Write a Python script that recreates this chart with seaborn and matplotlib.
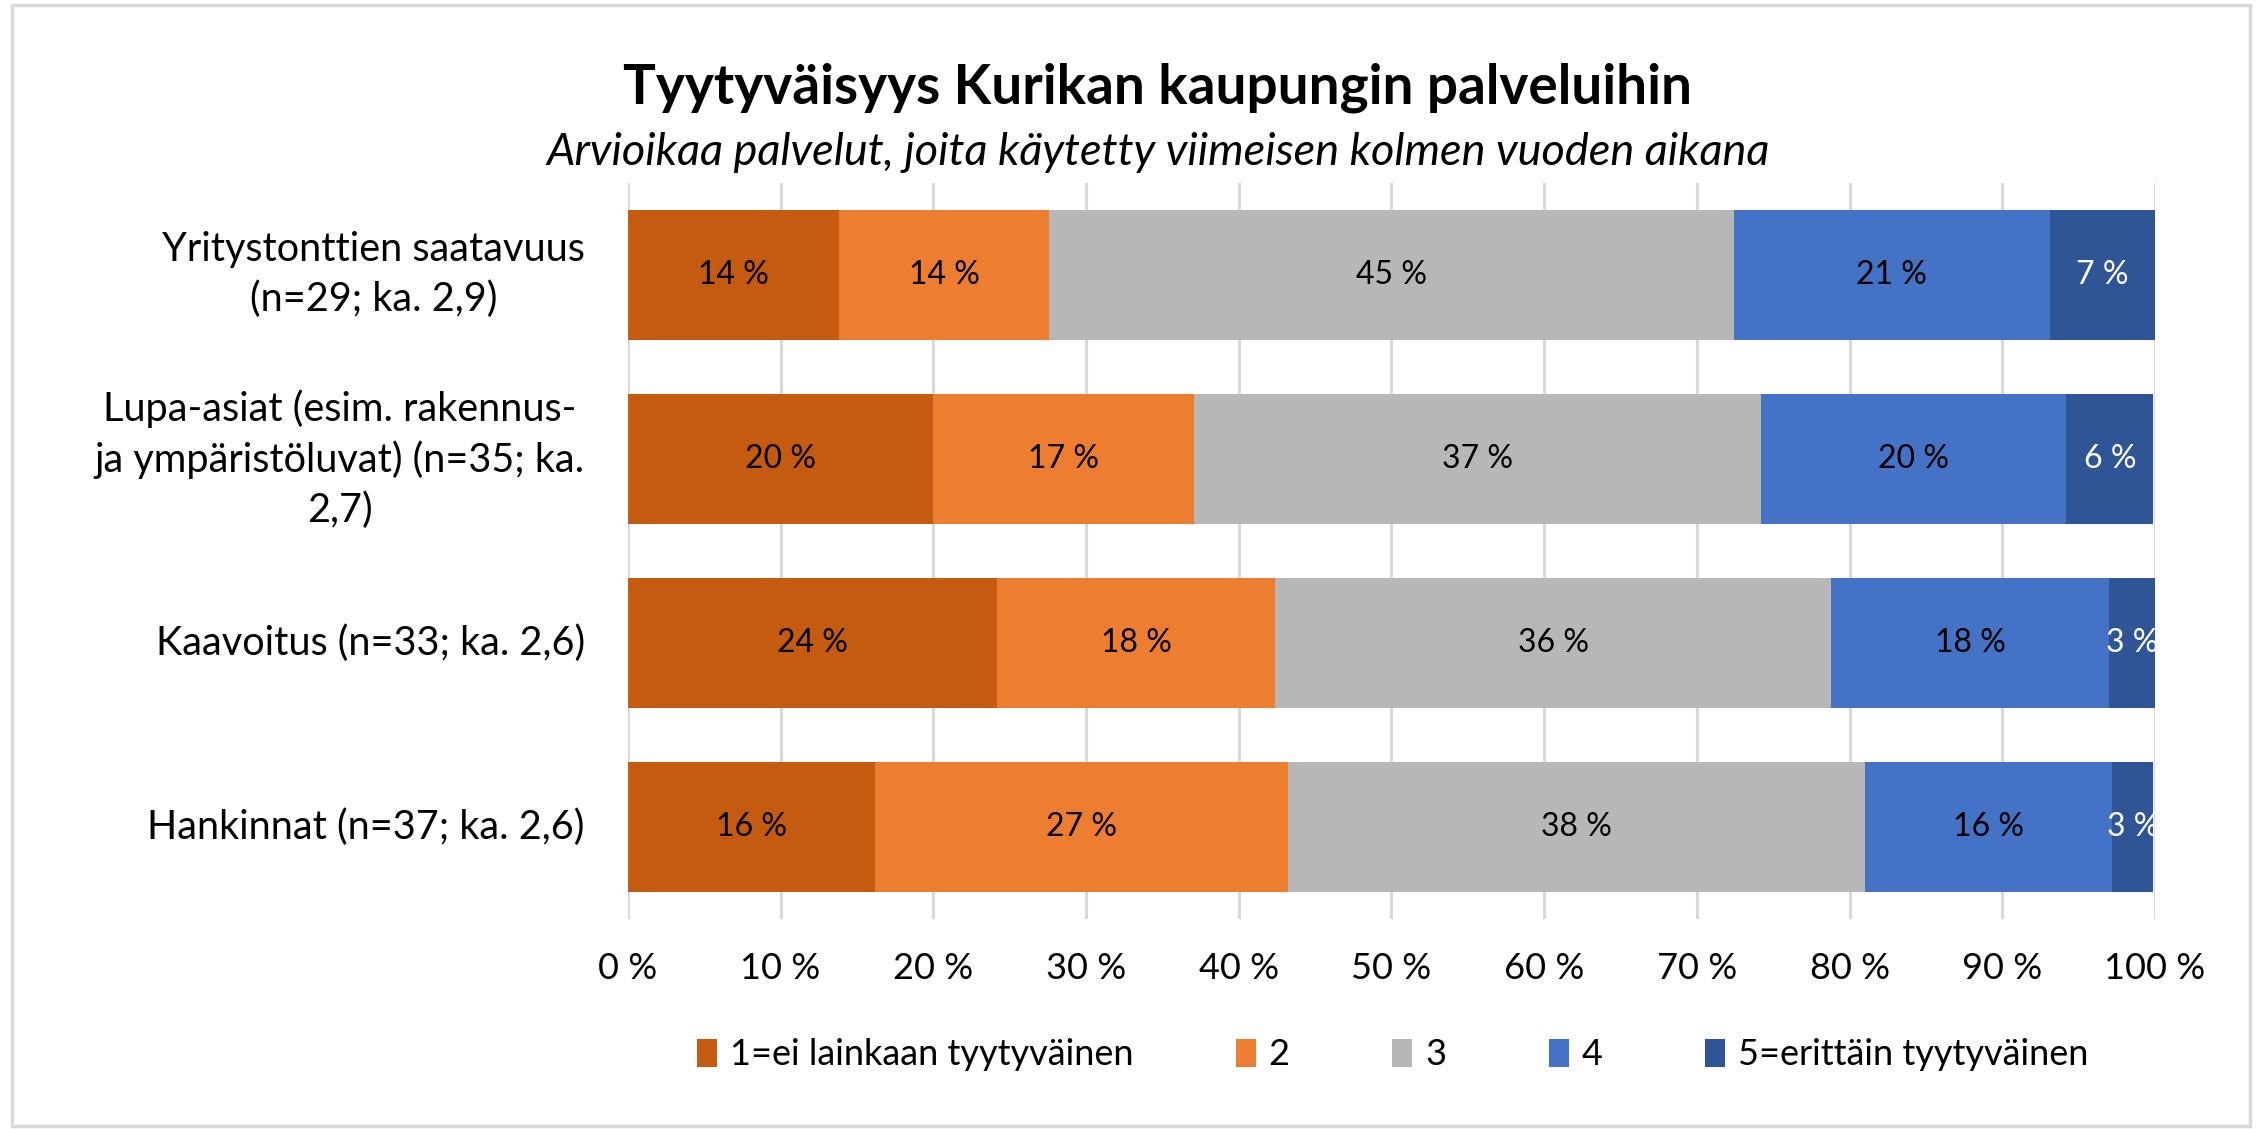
import numpy as np
import pandas as pd
import matplotlib
matplotlib.use("Agg")
import matplotlib.pyplot as plt
from matplotlib.patches import Patch, Rectangle
import seaborn as sns

# Data (prosentit)
palvelut = [
    'Yritystonttien saatavuus\n(n=29; ka. 2,9)',
    'Lupa-asiat (esim. rakennus-\nja ympäristöluvat) (n=35; ka.\n2,7)',
    'Kaavoitus (n=33; ka. 2,6)',
    'Hankinnat (n=37; ka. 2,6)',
]
luokat = ['1=ei lainkaan tyytyväinen', '2', '3', '4', '5=erittäin tyytyväinen']
arvo_1 = [13.8, 20.0, 24.2, 16.2]
arvo_2 = [13.8, 17.1, 18.2, 27.0]
arvo_3 = [44.8, 37.1, 36.4, 37.8]
arvo_4 = [20.7, 20.0, 18.2, 16.2]
arvo_5 = [6.9, 5.7, 3.0, 2.7]
x_ticks = [0, 10, 20, 30, 40, 50, 60, 70, 80, 90, 100]

varit = ['#C55A11', '#ED7D31', '#B7B7B7', '#4472C4', '#2F5597']
tekstivarit = ['black', 'black', 'black', 'black', 'white']

sns.set_theme(style="white")
plt.rcParams['font.family'] = ['Lato', 'DejaVu Sans']
plt.rcParams['text.color'] = 'black'
plt.rcParams['xtick.color'] = 'black'
plt.rcParams['ytick.color'] = 'black'

df = pd.DataFrame({'palvelu': palvelut, '1': arvo_1, '2': arvo_2,
                   '3': arvo_3, '4': arvo_4, '5': arvo_5})
sarakkeet = ['1', '2', '3', '4', '5']
kum = df[sarakkeet].cumsum(axis=1)

fig = plt.figure(figsize=(22.57, 11.29), dpi=100)
ax = fig.add_axes([0.2782, 0.186, 0.6766, 0.652])

# pinotut palkit: piirretään kumulatiiviset summat takaperin
for i in range(4, -1, -1):
    sns.barplot(x=kum[sarakkeet[i]], y=df['palvelu'], orient='h', color=varit[i],
                width=0.707, ax=ax, saturation=1, linewidth=0, zorder=2)

for i, s in enumerate(sarakkeet):
    for j in range(len(df)):
        v = df[s].iloc[j]
        keski = kum[s].iloc[j] - v / 2
        ax.text(keski, j, f"{v:.0f} %", ha='center', va='center', fontsize=23,
                color=tekstivarit[i], clip_on=True, zorder=3)

ax.set_xlim(0, 100)
ax.set_ylim(3.5, -0.5)
ax.set_xticks(x_ticks)
ax.set_xticklabels([f"{t} %" for t in x_ticks], fontsize=26)
ax.set_xlabel('')
ax.set_ylabel('')
ax.grid(axis='x', color='#D9D9D9', linewidth=2.2, zorder=0)
ax.grid(axis='y', visible=False)
ax.set_axisbelow(True)
for sp in ax.spines.values():
    sp.set_visible(False)
ax.tick_params(axis='x', length=0, pad=24)
ax.tick_params(axis='y', length=0, pad=31)
for lbl in ax.get_yticklabels():
    lbl.set_fontsize(28.5)
    lbl.set_ha('right')
    lbl.set_va('center')
    lbl.set_multialignment('center')
    lbl.set_linespacing(1.4)

fig.text(0.513, 0.922, 'Tyytyväisyys Kurikan kaupungin palveluihin',
         ha='center', va='center', fontsize=39.5, fontweight='bold')
fig.text(0.513, 0.865, 'Arvioikaa palvelut, joita käytetty viimeisen kolmen vuoden aikana',
         ha='center', va='center', fontsize=32.5, fontstyle='italic')

kahvat = [Patch(facecolor=c, edgecolor='none') for c in varit]
fig.legend(kahvat, luokat, loc='center', bbox_to_anchor=(0.617, 0.0656), ncol=5,
           frameon=False, fontsize=26, handlelength=0.55, handleheight=0.8,
           handletextpad=0.35, columnspacing=2.85)

fig.patches.append(Rectangle((0.0053, 0.003), 0.9915, 0.993, transform=fig.transFigure,
                             fill=False, edgecolor='#D9D9D9', linewidth=2.5))

plt.savefig('out.png', dpi=100)
